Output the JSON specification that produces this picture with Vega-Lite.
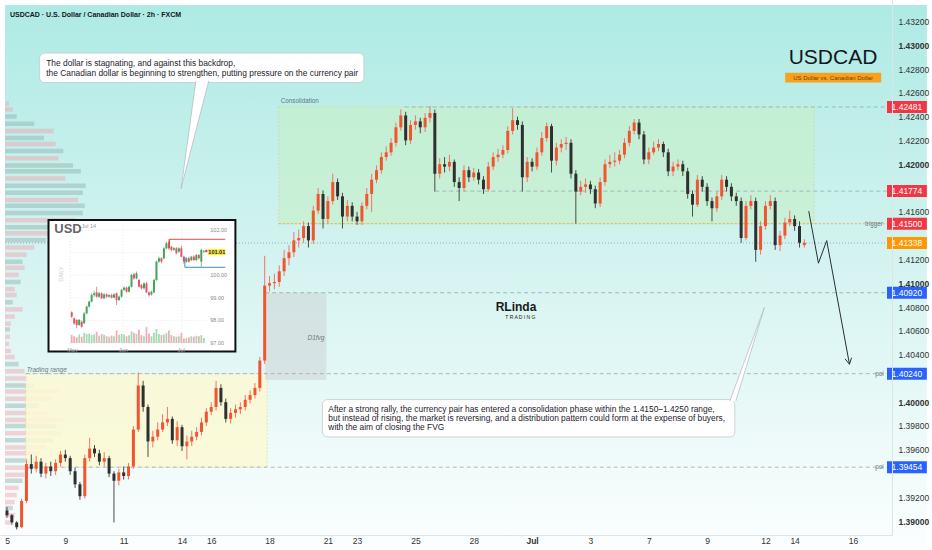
{
  "$schema": "https://vega.github.io/schema/vega-lite/v6.json",
  "width": 892,
  "height": 535,
  "autosize": "none",
  "padding": {"left": 0, "top": 0, "right": 40, "bottom": 15},
  "background": "#ffffff",
  "config": {"view": {"stroke": null}, "font": "Liberation Sans", "axis": {"labelOverlap": false, "labelBound": false, "labelSeparation": 0}},
  "datasets": {
    "candles": [
      {"i":0,"o":1.3909,"h":1.3912,"l":1.3903,"c":1.3905},{"i":1,"o":1.3905,"h":1.3906,"l":1.3897,"c":1.3899},{"i":2,"o":1.3899,"h":1.3900,"l":1.3893,"c":1.3895},{"i":3,"o":1.3895,"h":1.3919,"l":1.3894,"c":1.3917},{"i":4,"o":1.3917,"h":1.3952,"l":1.3915,"c":1.3948},
      {"i":5,"o":1.3948,"h":1.3956,"l":1.3940,"c":1.3944},{"i":6,"o":1.3944,"h":1.3955,"l":1.3941,"c":1.3950},{"i":7,"o":1.3950,"h":1.3953,"l":1.3937,"c":1.3940},{"i":8,"o":1.3940,"h":1.3949,"l":1.3936,"c":1.3946},{"i":9,"o":1.3946,"h":1.3950,"l":1.3938,"c":1.3942},
      {"i":10,"o":1.3942,"h":1.3952,"l":1.3939,"c":1.3949},{"i":11,"o":1.3949,"h":1.3959,"l":1.3946,"c":1.3956},{"i":12,"o":1.3956,"h":1.3960,"l":1.3950,"c":1.3953},{"i":13,"o":1.3953,"h":1.3955,"l":1.3939,"c":1.3942},{"i":14,"o":1.3942,"h":1.3945,"l":1.3928,"c":1.3931},
      {"i":15,"o":1.3931,"h":1.3933,"l":1.3918,"c":1.3921},{"i":16,"o":1.3921,"h":1.3956,"l":1.3919,"c":1.3953},{"i":17,"o":1.3953,"h":1.3970,"l":1.3950,"c":1.3961},{"i":18,"o":1.3961,"h":1.3964,"l":1.3954,"c":1.3957},{"i":19,"o":1.3957,"h":1.3960,"l":1.3947,"c":1.3950},
      {"i":20,"o":1.3950,"h":1.3958,"l":1.3946,"c":1.3953},{"i":21,"o":1.3953,"h":1.3955,"l":1.3937,"c":1.3940},{"i":22,"o":1.3940,"h":1.3942,"l":1.3899,"c":1.3934},{"i":23,"o":1.3934,"h":1.3944,"l":1.3930,"c":1.3941},{"i":24,"o":1.3941,"h":1.3946,"l":1.3935,"c":1.3938},
      {"i":25,"o":1.3938,"h":1.3949,"l":1.3935,"c":1.3946},{"i":26,"o":1.3946,"h":1.3980,"l":1.3944,"c":1.3977},{"i":27,"o":1.3977,"h":1.4025,"l":1.3975,"c":1.4014},{"i":28,"o":1.4014,"h":1.4018,"l":1.3992,"c":1.3996},{"i":29,"o":1.3996,"h":1.3998,"l":1.3954,"c":1.3967},
      {"i":30,"o":1.3967,"h":1.3976,"l":1.3962,"c":1.3971},{"i":31,"o":1.3971,"h":1.3983,"l":1.3968,"c":1.3977},{"i":32,"o":1.3977,"h":1.3990,"l":1.3975,"c":1.3983},{"i":33,"o":1.3983,"h":1.3996,"l":1.3980,"c":1.3986},{"i":34,"o":1.3986,"h":1.3988,"l":1.3965,"c":1.3968},
      {"i":35,"o":1.3968,"h":1.3984,"l":1.3963,"c":1.3979},{"i":36,"o":1.3979,"h":1.3981,"l":1.3959,"c":1.3963},{"i":37,"o":1.3963,"h":1.3972,"l":1.3952,"c":1.3967},{"i":38,"o":1.3967,"h":1.3976,"l":1.3963,"c":1.3971},{"i":39,"o":1.3971,"h":1.3979,"l":1.3968,"c":1.3975},
      {"i":40,"o":1.3975,"h":1.3987,"l":1.3972,"c":1.3983},{"i":41,"o":1.3983,"h":1.3995,"l":1.3980,"c":1.3992},{"i":42,"o":1.3992,"h":1.4000,"l":1.3989,"c":1.3996},{"i":43,"o":1.3996,"h":1.4018,"l":1.3993,"c":1.4012},{"i":44,"o":1.4012,"h":1.4015,"l":1.3997,"c":1.4000},
      {"i":45,"o":1.4000,"h":1.4003,"l":1.3983,"c":1.3986},{"i":46,"o":1.3986,"h":1.3995,"l":1.3982,"c":1.3991},{"i":47,"o":1.3991,"h":1.3998,"l":1.3987,"c":1.3994},{"i":48,"o":1.3994,"h":1.4000,"l":1.3990,"c":1.3996},{"i":49,"o":1.3996,"h":1.4006,"l":1.3993,"c":1.4002},
      {"i":50,"o":1.4002,"h":1.4010,"l":1.3999,"c":1.4006},{"i":51,"o":1.4006,"h":1.4016,"l":1.4003,"c":1.4012},{"i":52,"o":1.4012,"h":1.4038,"l":1.4009,"c":1.4035},{"i":53,"o":1.4035,"h":1.4123,"l":1.4032,"c":1.4098},{"i":54,"o":1.4098,"h":1.4106,"l":1.4093,"c":1.4100},
      {"i":55,"o":1.4100,"h":1.4108,"l":1.4095,"c":1.4101},{"i":56,"o":1.4101,"h":1.4115,"l":1.4097,"c":1.4110},{"i":57,"o":1.4110,"h":1.4128,"l":1.4106,"c":1.4121},{"i":58,"o":1.4121,"h":1.4132,"l":1.4115,"c":1.4126},{"i":59,"o":1.4126,"h":1.4143,"l":1.4122,"c":1.4136},
      {"i":60,"o":1.4136,"h":1.4145,"l":1.4130,"c":1.4138},{"i":61,"o":1.4138,"h":1.4152,"l":1.4134,"c":1.4148},{"i":62,"o":1.4148,"h":1.4151,"l":1.4130,"c":1.4136},{"i":63,"o":1.4136,"h":1.4165,"l":1.4133,"c":1.4161},{"i":64,"o":1.4161,"h":1.4180,"l":1.4158,"c":1.4175},
      {"i":65,"o":1.4175,"h":1.4178,"l":1.4146,"c":1.4154},{"i":66,"o":1.4154,"h":1.4173,"l":1.4150,"c":1.4169},{"i":67,"o":1.4169,"h":1.4192,"l":1.4166,"c":1.4185},{"i":68,"o":1.4185,"h":1.4188,"l":1.4170,"c":1.4173},{"i":69,"o":1.4173,"h":1.4176,"l":1.4146,"c":1.4156},
      {"i":70,"o":1.4156,"h":1.4170,"l":1.4152,"c":1.4165},{"i":71,"o":1.4165,"h":1.4168,"l":1.4152,"c":1.4156},{"i":72,"o":1.4156,"h":1.4160,"l":1.4149,"c":1.4152},{"i":73,"o":1.4152,"h":1.4168,"l":1.4149,"c":1.4165},{"i":74,"o":1.4165,"h":1.4180,"l":1.4162,"c":1.4175},
      {"i":75,"o":1.4175,"h":1.4192,"l":1.4160,"c":1.4187},{"i":76,"o":1.4187,"h":1.4199,"l":1.4184,"c":1.4195},{"i":77,"o":1.4195,"h":1.4210,"l":1.4192,"c":1.4206},{"i":78,"o":1.4206,"h":1.4215,"l":1.4203,"c":1.4210},{"i":79,"o":1.4210,"h":1.4222,"l":1.4207,"c":1.4218},
      {"i":80,"o":1.4218,"h":1.4235,"l":1.4215,"c":1.4231},{"i":81,"o":1.4231,"h":1.4246,"l":1.4228,"c":1.4241},{"i":82,"o":1.4241,"h":1.4244,"l":1.4216,"c":1.4220},{"i":83,"o":1.4220,"h":1.4237,"l":1.4217,"c":1.4233},{"i":84,"o":1.4233,"h":1.4241,"l":1.4229,"c":1.4236},
      {"i":85,"o":1.4236,"h":1.4239,"l":1.4226,"c":1.4231},{"i":86,"o":1.4231,"h":1.4243,"l":1.4227,"c":1.4239},{"i":87,"o":1.4239,"h":1.4249,"l":1.4235,"c":1.4243},{"i":88,"o":1.4243,"h":1.4246,"l":1.4177,"c":1.4192},{"i":89,"o":1.4192,"h":1.4205,"l":1.4188,"c":1.4200},
      {"i":90,"o":1.4200,"h":1.4206,"l":1.4193,"c":1.4198},{"i":91,"o":1.4198,"h":1.4208,"l":1.4194,"c":1.4202},{"i":92,"o":1.4202,"h":1.4204,"l":1.4181,"c":1.4185},{"i":93,"o":1.4185,"h":1.4189,"l":1.4169,"c":1.4180},{"i":94,"o":1.4180,"h":1.4199,"l":1.4177,"c":1.4195},
      {"i":95,"o":1.4195,"h":1.4198,"l":1.4185,"c":1.4189},{"i":96,"o":1.4189,"h":1.4197,"l":1.4186,"c":1.4193},{"i":97,"o":1.4193,"h":1.4196,"l":1.4183,"c":1.4187},{"i":98,"o":1.4187,"h":1.4190,"l":1.4175,"c":1.4179},{"i":99,"o":1.4179,"h":1.4202,"l":1.4177,"c":1.4198},
      {"i":100,"o":1.4198,"h":1.4210,"l":1.4195,"c":1.4206},{"i":101,"o":1.4206,"h":1.4213,"l":1.4202,"c":1.4208},{"i":102,"o":1.4208,"h":1.4216,"l":1.4205,"c":1.4212},{"i":103,"o":1.4212,"h":1.4232,"l":1.4209,"c":1.4228},{"i":104,"o":1.4228,"h":1.4247,"l":1.4225,"c":1.4237},
      {"i":105,"o":1.4237,"h":1.4240,"l":1.4229,"c":1.4233},{"i":106,"o":1.4233,"h":1.4236,"l":1.4177,"c":1.4189},{"i":107,"o":1.4189,"h":1.4206,"l":1.4185,"c":1.4202},{"i":108,"o":1.4202,"h":1.4205,"l":1.4194,"c":1.4198},{"i":109,"o":1.4198,"h":1.4214,"l":1.4195,"c":1.4210},
      {"i":110,"o":1.4210,"h":1.4227,"l":1.4207,"c":1.4222},{"i":111,"o":1.4222,"h":1.4235,"l":1.4219,"c":1.4232},{"i":112,"o":1.4232,"h":1.4234,"l":1.4193,"c":1.4203},{"i":113,"o":1.4203,"h":1.4218,"l":1.4199,"c":1.4214},{"i":114,"o":1.4214,"h":1.4221,"l":1.4210,"c":1.4217},
      {"i":115,"o":1.4217,"h":1.4223,"l":1.4212,"c":1.4218},{"i":116,"o":1.4218,"h":1.4221,"l":1.4188,"c":1.4192},{"i":117,"o":1.4192,"h":1.4195,"l":1.4150,"c":1.4177},{"i":118,"o":1.4177,"h":1.4186,"l":1.4174,"c":1.4181},{"i":119,"o":1.4181,"h":1.4188,"l":1.4176,"c":1.4183},
      {"i":120,"o":1.4183,"h":1.4186,"l":1.4175,"c":1.4179},{"i":121,"o":1.4179,"h":1.4182,"l":1.4163,"c":1.4167},{"i":122,"o":1.4167,"h":1.4189,"l":1.4164,"c":1.4185},{"i":123,"o":1.4185,"h":1.4204,"l":1.4182,"c":1.4200},{"i":124,"o":1.4200,"h":1.4208,"l":1.4197,"c":1.4202},
      {"i":125,"o":1.4202,"h":1.4210,"l":1.4198,"c":1.4203},{"i":126,"o":1.4203,"h":1.4212,"l":1.4200,"c":1.4208},{"i":127,"o":1.4208,"h":1.4222,"l":1.4205,"c":1.4218},{"i":128,"o":1.4218,"h":1.4232,"l":1.4215,"c":1.4228},{"i":129,"o":1.4228,"h":1.4238,"l":1.4225,"c":1.4235},
      {"i":130,"o":1.4235,"h":1.4238,"l":1.4221,"c":1.4225},{"i":131,"o":1.4225,"h":1.4228,"l":1.4200,"c":1.4204},{"i":132,"o":1.4204,"h":1.4214,"l":1.4200,"c":1.4210},{"i":133,"o":1.4210,"h":1.4219,"l":1.4208,"c":1.4214},{"i":134,"o":1.4214,"h":1.4221,"l":1.4211,"c":1.4217},
      {"i":135,"o":1.4217,"h":1.4219,"l":1.4206,"c":1.4210},{"i":136,"o":1.4210,"h":1.4213,"l":1.4190,"c":1.4194},{"i":137,"o":1.4194,"h":1.4202,"l":1.4190,"c":1.4198},{"i":138,"o":1.4198,"h":1.4204,"l":1.4195,"c":1.4200},{"i":139,"o":1.4200,"h":1.4203,"l":1.4190,"c":1.4194},
      {"i":140,"o":1.4194,"h":1.4197,"l":1.4171,"c":1.4175},{"i":141,"o":1.4175,"h":1.4178,"l":1.4156,"c":1.4166},{"i":142,"o":1.4166,"h":1.4191,"l":1.4164,"c":1.4187},{"i":143,"o":1.4187,"h":1.4190,"l":1.4177,"c":1.4181},{"i":144,"o":1.4181,"h":1.4184,"l":1.4165,"c":1.4169},
      {"i":145,"o":1.4169,"h":1.4172,"l":1.4152,"c":1.4163},{"i":146,"o":1.4163,"h":1.4177,"l":1.4160,"c":1.4173},{"i":147,"o":1.4173,"h":1.4191,"l":1.4170,"c":1.4187},{"i":148,"o":1.4187,"h":1.4190,"l":1.4177,"c":1.4181},{"i":149,"o":1.4181,"h":1.4184,"l":1.4169,"c":1.4173},
      {"i":150,"o":1.4173,"h":1.4176,"l":1.4165,"c":1.4169},{"i":151,"o":1.4169,"h":1.4172,"l":1.4134,"c":1.4138},{"i":152,"o":1.4138,"h":1.4169,"l":1.4136,"c":1.4165},{"i":153,"o":1.4165,"h":1.4174,"l":1.4162,"c":1.4169},{"i":154,"o":1.4169,"h":1.4172,"l":1.4118,"c":1.4128},
      {"i":155,"o":1.4128,"h":1.4152,"l":1.4124,"c":1.4148},{"i":156,"o":1.4148,"h":1.4169,"l":1.4145,"c":1.4165},{"i":157,"o":1.4165,"h":1.4174,"l":1.4162,"c":1.4169},{"i":158,"o":1.4169,"h":1.4172,"l":1.4128,"c":1.4132},{"i":159,"o":1.4132,"h":1.4144,"l":1.4127,"c":1.4140},
      {"i":160,"o":1.4140,"h":1.4155,"l":1.4137,"c":1.4151},{"i":161,"o":1.4151,"h":1.4161,"l":1.4148,"c":1.4154},{"i":162,"o":1.4154,"h":1.4157,"l":1.4144,"c":1.4148},{"i":163,"o":1.4148,"h":1.4152,"l":1.4130,"c":1.4134},{"i":164,"o":1.4132,"h":1.4137,"l":1.4130,"c":1.4134}
    ],
    "vp": [
      {"p":1.4251,"e":0.4,"k":"p"},{"p":1.4246,"e":1.2,"k":"p"},{"p":1.4240,"e":2.0,"k":"a"},{"p":1.4234,"e":5.6,"k":"a"},{"p":1.4228,"e":9.6,"k":"p"},
      {"p":1.4222,"e":7.6,"k":"a"},{"p":1.4217,"e":10.0,"k":"p"},{"p":1.4211,"e":11.6,"k":"a"},{"p":1.4205,"e":10.6,"k":"p"},{"p":1.4199,"e":13.6,"k":"a"},
      {"p":1.4194,"e":15.2,"k":"a"},{"p":1.4188,"e":12.0,"k":"p"},{"p":1.4182,"e":16.2,"k":"a"},{"p":1.4176,"e":15.6,"k":"a"},{"p":1.4170,"e":14.6,"k":"p"},
      {"p":1.4165,"e":16.0,"k":"a"},{"p":1.4159,"e":15.6,"k":"a"},{"p":1.4153,"e":14.0,"k":"p"},{"p":1.4147,"e":12.6,"k":"a"},{"p":1.4142,"e":9.6,"k":"p"},
      {"p":1.4136,"e":8.0,"k":"a"},{"p":1.4130,"e":5.6,"k":"p"},{"p":1.4124,"e":4.0,"k":"p"},{"p":1.4118,"e":3.2,"k":"a"},{"p":1.4113,"e":3.6,"k":"p"},
      {"p":1.4107,"e":2.4,"k":"p"},{"p":1.4101,"e":2.8,"k":"a"},{"p":1.4095,"e":1.6,"k":"p"},{"p":1.4090,"e":2.0,"k":"p"},{"p":1.4084,"e":1.2,"k":"a"},
      {"p":1.4078,"e":3.2,"k":"p"},{"p":1.4072,"e":1.6,"k":"p"},{"p":1.4066,"e":0.8,"k":"p"},{"p":1.4061,"e":0.6,"k":"a"},{"p":1.4055,"e":0.6,"k":"p"},
      {"p":1.4049,"e":0.4,"k":"p"},{"p":1.4043,"e":0.8,"k":"p"},{"p":1.4038,"e":1.6,"k":"p"},{"p":1.4032,"e":2.4,"k":"a"},{"p":1.4026,"e":3.6,"k":"p"},
      {"p":1.4020,"e":4.4,"k":"p"},{"p":1.4014,"e":5.6,"k":"a"},{"p":1.4009,"e":10.6,"k":"p"},{"p":1.4003,"e":9.2,"k":"p"},{"p":1.3997,"e":6.6,"k":"a"},
      {"p":1.3991,"e":8.6,"k":"p"},{"p":1.3985,"e":11.6,"k":"p"},{"p":1.3980,"e":10.0,"k":"a"},{"p":1.3974,"e":11.2,"k":"p"},{"p":1.3968,"e":9.6,"k":"a"},
      {"p":1.3962,"e":8.0,"k":"p"},{"p":1.3957,"e":6.8,"k":"p"},{"p":1.3951,"e":5.6,"k":"a"},{"p":1.3945,"e":4.6,"k":"p"},{"p":1.3939,"e":3.6,"k":"p"},
      {"p":1.3934,"e":3.2,"k":"a"},{"p":1.3928,"e":2.4,"k":"p"},{"p":1.3922,"e":2.0,"k":"p"},{"p":1.3916,"e":1.6,"k":"p"},{"p":1.3911,"e":1.2,"k":"a"},
      {"p":1.3905,"e":1.6,"k":"p"},{"p":1.3899,"e":0.8,"k":"p"}
    ],
    "mini": [
      {"k":0,"o":98.36,"h":98.40,"l":98.10,"c":98.17,"vt":97.35},{"k":1,"o":98.09,"h":98.14,"l":97.80,"c":97.87,"vt":97.30},{"k":2,"o":98.02,"h":98.06,"l":97.65,"c":97.80,"vt":97.25},
      {"k":3,"o":97.80,"h":98.06,"l":97.75,"c":98.02,"vt":97.38},{"k":4,"o":97.94,"h":98.00,"l":97.68,"c":97.72,"vt":97.28},{"k":5,"o":97.87,"h":98.36,"l":97.84,"c":98.31,"vt":97.45},
      {"k":6,"o":98.31,"h":98.66,"l":98.28,"c":98.61,"vt":97.40},{"k":7,"o":98.61,"h":98.88,"l":98.57,"c":98.83,"vt":97.42},{"k":8,"o":98.83,"h":99.20,"l":98.80,"c":99.12,"vt":97.35},
      {"k":9,"o":99.12,"h":99.30,"l":99.05,"c":99.20,"vt":97.38},{"k":10,"o":99.24,"h":99.49,"l":99.00,"c":99.05,"vt":97.50},{"k":11,"o":99.05,"h":99.26,"l":99.00,"c":99.20,"vt":97.32},
      {"k":12,"o":99.20,"h":99.24,"l":98.95,"c":98.98,"vt":97.40},{"k":13,"o":98.98,"h":99.20,"l":98.94,"c":99.15,"vt":97.36},{"k":14,"o":99.15,"h":99.19,"l":99.00,"c":99.05,"vt":97.30},
      {"k":15,"o":99.05,"h":99.16,"l":99.01,"c":99.12,"vt":97.28},{"k":16,"o":99.12,"h":99.18,"l":98.97,"c":99.01,"vt":97.33},{"k":17,"o":99.01,"h":99.20,"l":98.98,"c":99.15,"vt":97.30},
      {"k":18,"o":99.20,"h":99.24,"l":98.68,"c":98.90,"vt":97.55},{"k":19,"o":98.90,"h":99.10,"l":98.86,"c":99.05,"vt":97.36},{"k":20,"o":99.05,"h":99.40,"l":99.00,"c":99.35,"vt":97.40},
      {"k":21,"o":99.35,"h":99.50,"l":99.30,"c":99.45,"vt":97.38},{"k":22,"o":99.45,"h":99.50,"l":99.22,"c":99.27,"vt":97.30},{"k":23,"o":99.27,"h":99.55,"l":99.24,"c":99.49,"vt":97.34},
      {"k":24,"o":99.49,"h":100.06,"l":99.45,"c":100.01,"vt":97.52},{"k":25,"o":100.04,"h":100.10,"l":99.80,"c":99.86,"vt":97.45},{"k":26,"o":99.86,"h":100.16,"l":99.82,"c":100.08,"vt":97.40},
      {"k":27,"o":99.79,"h":99.84,"l":99.45,"c":99.49,"vt":97.60},{"k":28,"o":99.57,"h":99.62,"l":99.37,"c":99.42,"vt":97.35},{"k":29,"o":99.42,"h":99.68,"l":99.38,"c":99.64,"vt":97.30},
      {"k":30,"o":99.64,"h":99.70,"l":99.20,"c":99.24,"vt":97.70},{"k":31,"o":99.24,"h":99.28,"l":99.05,"c":99.12,"vt":97.42},{"k":32,"o":99.15,"h":99.32,"l":99.10,"c":99.27,"vt":97.30},
      {"k":33,"o":99.24,"h":99.84,"l":99.20,"c":99.79,"vt":97.45},{"k":34,"o":99.79,"h":100.65,"l":99.75,"c":100.60,"vt":97.62},{"k":35,"o":100.60,"h":100.82,"l":100.55,"c":100.75,"vt":97.40},
      {"k":36,"o":100.75,"h":100.80,"l":100.52,"c":100.60,"vt":97.35},{"k":37,"o":100.75,"h":101.24,"l":100.70,"c":101.19,"vt":97.38},{"k":38,"o":101.19,"h":101.48,"l":101.15,"c":101.41,"vt":97.45},
      {"k":39,"o":101.48,"h":101.60,"l":101.12,"c":101.19,"vt":97.55},{"k":40,"o":101.26,"h":101.30,"l":101.05,"c":101.12,"vt":97.35},{"k":41,"o":101.12,"h":101.24,"l":101.08,"c":101.19,"vt":97.30},
      {"k":42,"o":101.19,"h":101.24,"l":100.92,"c":100.97,"vt":97.28},{"k":43,"o":101.04,"h":101.24,"l":101.00,"c":101.19,"vt":97.30},{"k":44,"o":101.19,"h":101.30,"l":100.78,"c":100.82,"vt":97.45},
      {"k":45,"o":100.82,"h":100.86,"l":100.50,"c":100.60,"vt":97.20},{"k":46,"o":100.60,"h":100.80,"l":100.55,"c":100.75,"vt":97.22},{"k":47,"o":100.75,"h":100.82,"l":100.56,"c":100.60,"vt":97.25},
      {"k":48,"o":100.67,"h":100.86,"l":100.62,"c":100.82,"vt":97.30},{"k":49,"o":100.82,"h":100.88,"l":100.62,"c":100.67,"vt":97.28},{"k":50,"o":100.67,"h":100.94,"l":100.62,"c":100.89,"vt":97.32},
      {"k":51,"o":100.89,"h":100.94,"l":100.70,"c":100.75,"vt":97.30},{"k":52,"o":100.60,"h":101.18,"l":100.38,"c":101.12,"vt":97.35},{"k":53,"o":101.04,"h":101.12,"l":100.98,"c":101.07,"vt":97.22}
    ]
  },
  "layer": [
    {
      "resolve": {"scale": {"color": "independent"}},
      "layer": [
        {
          "data": {"values": [{"x1": -0.41, "x2": 189.2, "y1": 1.43338, "y2": 1.38802}]},
          "mark": {"type": "rect", "fill": {"gradient": "linear", "x1": 0, "y1": 0, "x2": 0, "y2": 1, "stops": [{"offset": 0, "color": "#aeeae4"}, {"offset": 0.5, "color": "#d6f4f1"}, {"offset": 1, "color": "#fbfefe"}]}},
          "encoding": {
            "x": {
              "field": "x1", "type": "quantitative",
              "scale": {"domain": [-0.41, 181], "nice": false, "zero": false},
              "axis": {
                "title": null, "grid": false, "ticks": false, "domain": true, "domainColor": "#dfe3e6",
                "values": [0, 12, 24, 36, 42, 54, 66, 72, 84, 96, 108, 120, 132, 144, 156, 162, 174],
                "tickCount": 40,
                "labelExpr": "['5','9','11','14','16','18','21','23','25','28','Jul','3','7','9','12','14','16'][indexof([0,12,24,36,42,54,66,72,84,96,108,120,132,144,156,162,174], datum.value)]",
                "labelFontSize": 8.5, "labelColor": "#333333", "labelPadding": 1, "labelFlush": false, "labelOverlap": false,
                "labelFontWeight": {"condition": {"test": "datum.value == 108", "value": "bold"}, "value": "normal"},
                "zindex": 1
              }
            },
            "x2": {"field": "x2"},
            "y": {
              "field": "y1", "type": "quantitative",
              "scale": {"domain": [1.38926, 1.43338], "nice": false, "zero": false},
              "axis": {
                "title": null, "orient": "right", "grid": false, "ticks": false, "domain": true, "domainColor": "#dfe3e6",
                "values": [1.39, 1.392, 1.394, 1.396, 1.398, 1.4, 1.402, 1.404, 1.406, 1.408, 1.41, 1.412, 1.414, 1.416, 1.418, 1.42, 1.422, 1.424, 1.426, 1.428, 1.43, 1.432],
                "tickCount": 40,
                "format": ".5f",
                "labelExpr": "indexof([1.394, 1.402, 1.414, 1.418], datum.value) >= 0 ? '' : datum.label",
                "labelFontSize": 8.5, "labelColor": "#333333", "labelPadding": 6, "labelOverlap": false, "labelBound": false, "labelSeparation": 0,
                "labelFontWeight": {"condition": {"test": "indexof([1.39, 1.4, 1.41, 1.42, 1.43], datum.value) >= 0", "value": "bold"}, "value": "normal"},
                "zindex": 1
              }
            },
            "y2": {"field": "y2"}
          }
        },
        {
          "data": {"name": "vp"},
          "mark": {"type": "bar", "orient": "horizontal", "size": 4.5, "opacity": 0.45},
          "encoding": {
            "y": {"field": "p", "type": "quantitative"},
            "x": {"field": "e", "type": "quantitative"},
            "x2": {"datum": -0.41},
            "color": {"field": "k", "type": "nominal", "scale": {"domain": ["a", "p"], "range": ["#8fb0ad", "#f5a0ab"]}, "legend": null}
          }
        },
        {
          "data": {"values": [{"a": 55.9, "b": 166, "lo": 1.415, "hi": 1.42481}]},
          "mark": {"type": "rect", "fill": "#c6efc9", "fillOpacity": 0.65, "stroke": "#d2d68a", "strokeWidth": 0.8, "strokeDash": [1.5, 2]},
          "encoding": {"x": {"field": "a", "type": "quantitative"}, "x2": {"field": "b"}, "y": {"field": "lo", "type": "quantitative"}, "y2": {"field": "hi"}}
        },
        {
          "data": {"values": [{"a": 3.86, "b": 53.5, "lo": 1.39454, "hi": 1.4024}]},
          "mark": {"type": "rect", "fill": "#fbf9d4", "fillOpacity": 0.85, "stroke": "#d9d9a0", "strokeWidth": 0.8, "strokeDash": [1.5, 2]},
          "encoding": {"x": {"field": "a", "type": "quantitative"}, "x2": {"field": "b"}, "y": {"field": "lo", "type": "quantitative"}, "y2": {"field": "hi"}}
        },
        {
          "data": {"values": [{"a": 53.1, "b": 65.7, "lo": 1.40186, "hi": 1.4092}]},
          "mark": {"type": "rect", "fill": "#cdd3d6", "fillOpacity": 0.55},
          "encoding": {"x": {"field": "a", "type": "quantitative"}, "x2": {"field": "b"}, "y": {"field": "lo", "type": "quantitative"}, "y2": {"field": "hi"}}
        },
        {
          "data": {"values": [{"p": 1.42481, "a": 81.8, "b": 181}, {"p": 1.41774, "a": 88.1, "b": 181}, {"p": 1.4092, "a": 53.1, "b": 181}, {"p": 1.4024, "a": 3.86, "b": 181}, {"p": 1.39454, "a": 3.86, "b": 181}]},
          "mark": {"type": "rule", "color": "#98a8b4", "strokeWidth": 0.8, "strokeDash": [4, 3]},
          "encoding": {"y": {"field": "p", "type": "quantitative"}, "x": {"field": "a", "type": "quantitative"}, "x2": {"field": "b"}}
        },
        {
          "data": {"values": [{"p": 1.415, "a": 55.9, "b": 181}]},
          "mark": {"type": "rule", "color": "#eba83a", "strokeWidth": 0.9, "strokeDash": [2, 2]},
          "encoding": {"y": {"field": "p", "type": "quantitative"}, "x": {"field": "a", "type": "quantitative"}, "x2": {"field": "b"}}
        },
        {
          "data": {"values": [{"p": 1.41338, "a": -0.41, "b": 181}]},
          "mark": {"type": "rule", "color": "#8c9aa0", "strokeWidth": 0.8, "strokeDash": [1, 2]},
          "encoding": {"y": {"field": "p", "type": "quantitative"}, "x": {"field": "a", "type": "quantitative"}, "x2": {"field": "b"}}
        },
        {
          "data": {"values": [{"i": 56.3, "p": 1.4253, "t": "Consolidation"}, {"i": 176.5, "p": 1.415, "t": "trigger"}, {"i": 178.6, "p": 1.4024, "t": "poi"}, {"i": 178.6, "p": 1.39454, "t": "poi"}]},
          "mark": {"type": "text", "align": "left", "baseline": "middle", "fontSize": 6.3, "color": "#66777e"},
          "encoding": {"x": {"field": "i", "type": "quantitative"}, "y": {"field": "p", "type": "quantitative"}, "text": {"field": "t", "type": "nominal"}}
        },
        {
          "data": {"values": [{"i": 4.07, "p": 1.4027, "t": "Trading range"}, {"i": 61.8, "p": 1.40541, "t": "D1fvg"}]},
          "mark": {"type": "text", "align": "left", "baseline": "middle", "fontSize": 6.5, "fontStyle": "italic", "color": "#6f7a80"},
          "encoding": {"x": {"field": "i", "type": "quantitative"}, "y": {"field": "p", "type": "quantitative"}, "text": {"field": "t", "type": "nominal"}}
        },
        {
          "data": {"values": [{"a": 6.71, "b": 73.42, "lo": 1.42686, "hi": 1.42934}, {"a": 64.88, "b": 149.7, "lo": 1.39708, "hi": 1.40022}]},
          "mark": {"type": "rect", "fill": "#ffffff", "stroke": "#c3c8cc", "strokeWidth": 0.8, "cornerRadius": 5},
          "encoding": {"x": {"field": "a", "type": "quantitative"}, "x2": {"field": "b"}, "y": {"field": "lo", "type": "quantitative"}, "y2": {"field": "hi"}}
        },
        {
          "data": {"values": [
            {"g": "p1", "o": 0, "i": 38.85, "p": 1.427}, {"g": "p1", "o": 1, "i": 35.8, "p": 1.41795}, {"g": "p1", "o": 2, "i": 41.49, "p": 1.427},
            {"g": "p2", "o": 0, "i": 148.67, "p": 1.4001}, {"g": "p2", "o": 1, "i": 155.8, "p": 1.40798}, {"g": "p2", "o": 2, "i": 149.9, "p": 1.4001}
          ]},
          "mark": {"type": "line", "fill": "#ffffff", "stroke": "#b8bec4", "strokeWidth": 0.8},
          "encoding": {"x": {"field": "i", "type": "quantitative"}, "y": {"field": "p", "type": "quantitative"}, "detail": {"field": "g", "type": "nominal"}, "order": {"field": "o", "type": "quantitative"}}
        },
        {
          "data": {"values": [
            {"i": 8.07, "p": 1.42847, "t": "The dollar is stagnating, and against this backdrop,"},
            {"i": 8.07, "p": 1.42769, "t": "the Canadian dollar is beginning to strengthen, putting pressure on the currency pair"}
          ]},
          "mark": {"type": "text", "align": "left", "baseline": "middle", "fontSize": 8.4, "color": "#1e222d"},
          "encoding": {"x": {"field": "i", "type": "quantitative"}, "y": {"field": "p", "type": "quantitative"}, "text": {"field": "t", "type": "nominal"}}
        },
        {
          "data": {"values": [
            {"i": 66.1, "p": 1.39944, "t": "After a strong rally, the currency pair has entered a consolidation phase within the 1.4150–1.4250 range,"},
            {"i": 66.1, "p": 1.39869, "t": "but instead of rising, the market is reversing, and a distribution pattern could form at the expense of buyers,"},
            {"i": 66.1, "p": 1.39795, "t": "with the aim of closing the FVG"}
          ]},
          "mark": {"type": "text", "align": "left", "baseline": "middle", "fontSize": 8.4, "color": "#1e222d"},
          "encoding": {"x": {"field": "i", "type": "quantitative"}, "y": {"field": "p", "type": "quantitative"}, "text": {"field": "t", "type": "nominal"}}
        },
        {
          "data": {"values": [{"a": 8.54, "b": 46.98, "lo": 1.40426, "hi": 1.41531}]},
          "mark": {"type": "rect", "fill": "#ffffff", "stroke": "#111111", "strokeWidth": 2},
          "encoding": {"x": {"field": "a", "type": "quantitative"}, "x2": {"field": "b"}, "y": {"field": "lo", "type": "quantitative"}, "y2": {"field": "hi"}}
        },
        {
          "data": {"name": "candles"},
          "mark": {"type": "rule", "strokeWidth": 1},
          "encoding": {
            "x": {"field": "i", "type": "quantitative"},
            "y": {"field": "l", "type": "quantitative"},
            "y2": {"field": "h"},
            "color": {"condition": {"test": "datum.c >= datum.o", "value": "#f0766a"}, "value": "#4a4a4a"}
          }
        },
        {
          "data": {"name": "candles"},
          "mark": {"type": "bar", "size": 3},
          "encoding": {
            "x": {"field": "i", "type": "quantitative"},
            "y": {"field": "o", "type": "quantitative"},
            "y2": {"field": "c"},
            "color": {"condition": {"test": "datum.c >= datum.o", "value": "#f2542d"}, "value": "#2f2f2f"}
          }
        },
        {
          "data": {"values": [
            {"g": "a", "o": 0, "i": 164.9, "p": 1.41606}, {"g": "a", "o": 1, "i": 166.9, "p": 1.41168}, {"g": "a", "o": 2, "i": 168.6, "p": 1.41358}, {"g": "a", "o": 3, "i": 173.28, "p": 1.40319},
            {"g": "h", "o": 0, "i": 173.71, "p": 1.40374}, {"g": "h", "o": 1, "i": 173.28, "p": 1.40319}, {"g": "h", "o": 2, "i": 172.38, "p": 1.40364}
          ]},
          "mark": {"type": "line", "color": "#2a2e39", "strokeWidth": 1},
          "encoding": {"x": {"field": "i", "type": "quantitative"}, "y": {"field": "p", "type": "quantitative"}, "detail": {"field": "g", "type": "nominal"}, "order": {"field": "o", "type": "quantitative"}}
        },
        {
          "data": {"values": [{"i": 169.9, "p": 1.42843, "t": "USDCAD"}]},
          "mark": {"type": "text", "align": "center", "baseline": "alphabetic", "fontSize": 21, "color": "#131722"},
          "encoding": {"x": {"field": "i", "type": "quantitative"}, "y": {"field": "p", "type": "quantitative"}, "text": {"field": "t", "type": "nominal"}}
        },
        {
          "data": {"values": [{"a": 160.06, "b": 179.8, "lo": 1.42686, "hi": 1.42769}]},
          "mark": {"type": "rect", "fill": "#f8a11c"},
          "encoding": {"x": {"field": "a", "type": "quantitative"}, "x2": {"field": "b"}, "y": {"field": "lo", "type": "quantitative"}, "y2": {"field": "hi"}}
        },
        {
          "data": {"values": [{"i": 169.9, "p": 1.42728, "t": "US Dollar vs. Canadian Dollar"}]},
          "mark": {"type": "text", "align": "center", "baseline": "middle", "fontSize": 6, "color": "#7a3e00"},
          "encoding": {"x": {"field": "i", "type": "quantitative"}, "y": {"field": "p", "type": "quantitative"}, "text": {"field": "t", "type": "nominal"}}
        },
        {
          "data": {"values": [
            {"p": 1.42481, "t": "1.42481", "k": "r", "a": 181, "b": 189.2, "m": 185.1},
            {"p": 1.41774, "t": "1.41774", "k": "r", "a": 181, "b": 189.2, "m": 185.1},
            {"p": 1.415, "t": "1.41500", "k": "r", "a": 181, "b": 189.2, "m": 185.1},
            {"p": 1.41338, "t": "1.41338", "k": "o", "a": 181, "b": 189.2, "m": 185.1},
            {"p": 1.4092, "t": "1.40920", "k": "b", "a": 181, "b": 189.2, "m": 185.1},
            {"p": 1.4024, "t": "1.40240", "k": "b", "a": 181, "b": 189.2, "m": 185.1},
            {"p": 1.39454, "t": "1.39454", "k": "b", "a": 181, "b": 189.2, "m": 185.1}
          ]},
          "layer": [
            {
              "mark": {"type": "bar", "orient": "horizontal", "size": 12, "opacity": 1, "fillOpacity": 1},
              "encoding": {
                "y": {"field": "p", "type": "quantitative"},
                "x": {"field": "a", "type": "quantitative"},
                "x2": {"field": "b"},
                "color": {"field": "k", "type": "nominal", "scale": {"domain": ["r", "o", "b"], "range": ["#f23645", "#ff9800", "#2962ff"]}, "legend": null}
              }
            },
            {
              "mark": {"type": "text", "align": "center", "baseline": "middle", "fontSize": 8.5, "color": "#ffffff"},
              "encoding": {"y": {"field": "p", "type": "quantitative"}, "x": {"field": "m", "type": "quantitative"}, "text": {"field": "t", "type": "nominal"}}
            }
          ]
        },
        {
          "data": {"values": [{"i": 104.7, "p": 1.40798, "t": "RLinda"}]},
          "mark": {"type": "text", "align": "center", "baseline": "middle", "fontSize": 12, "fontWeight": "bold", "color": "#1a1a1a"},
          "encoding": {"x": {"field": "i", "type": "quantitative"}, "y": {"field": "p", "type": "quantitative"}, "text": {"field": "t", "type": "nominal"}}
        },
        {
          "data": {"values": [{"i": 105.6, "p": 1.40712, "t": "T R A D I N G"}]},
          "mark": {"type": "text", "align": "center", "baseline": "middle", "fontSize": 5, "color": "#1a1a1a"},
          "encoding": {"x": {"field": "i", "type": "quantitative"}, "y": {"field": "p", "type": "quantitative"}, "text": {"field": "t", "type": "nominal"}}
        },
        {
          "data": {"values": [{"i": 0.61, "p": 1.43251, "t": "USDCAD · U.S. Dollar / Canadian Dollar · 2h · FXCM"}]},
          "mark": {"type": "text", "align": "left", "baseline": "middle", "fontSize": 7, "fontWeight": "bold", "color": "#131722"},
          "encoding": {"x": {"field": "i", "type": "quantitative"}, "y": {"field": "p", "type": "quantitative"}, "text": {"field": "t", "type": "nominal"}}
        }
      ]
    },
    {
      "resolve": {"scale": {"color": "independent"}},
      "layer": [
        {
          "data": {"values": [{"v": 102, "a": -0.6, "b": 54.8}, {"v": 101, "a": -0.6, "b": 54.8}, {"v": 100, "a": -0.6, "b": 54.8}, {"v": 99, "a": -0.6, "b": 54.8}, {"v": 98, "a": -0.6, "b": 54.8}, {"v": 97, "a": -0.6, "b": 54.8}]},
          "mark": {"type": "rule", "color": "#d8d8d8", "strokeWidth": 0.6, "strokeDash": [1, 2]},
          "encoding": {
            "y": {"field": "v", "type": "quantitative", "scale": {"domain": [97, 102], "range": [343, 230], "nice": false, "zero": false}, "axis": null},
            "x": {"field": "a", "type": "quantitative", "scale": {"domain": [0, 54], "range": [66.7, 211.3], "nice": false, "zero": false}, "axis": null},
            "x2": {"field": "b"}
          }
        },
        {
          "data": {"values": [{"v": -0.6, "lo": 96.95, "hi": 102.25}, {"v": 20.5, "lo": 96.95, "hi": 102.25}, {"v": 44.2, "lo": 96.95, "hi": 102.25}]},
          "mark": {"type": "rule", "color": "#d8d8d8", "strokeWidth": 0.6, "strokeDash": [1, 2]},
          "encoding": {
            "x": {"field": "v", "type": "quantitative", "axis": null},
            "y": {"field": "lo", "type": "quantitative", "axis": null},
            "y2": {"field": "hi"}
          }
        },
        {
          "data": {"name": "mini"},
          "mark": {"type": "bar", "size": 1.8},
          "encoding": {
            "x": {"field": "k", "type": "quantitative", "axis": null},
            "y": {"field": "vt", "type": "quantitative", "axis": null},
            "y2": {"datum": 97},
            "color": {"condition": {"test": "datum.c >= datum.o", "value": "#a9d9b2"}, "value": "#f3aab7"}
          }
        },
        {
          "data": {"name": "mini"},
          "mark": {"type": "rule", "strokeWidth": 0.7},
          "encoding": {
            "x": {"field": "k", "type": "quantitative", "axis": null},
            "y": {"field": "l", "type": "quantitative", "axis": null},
            "y2": {"field": "h"},
            "color": {"condition": {"test": "datum.c >= datum.o", "value": "#43a55a"}, "value": "#e0566b"}
          }
        },
        {
          "data": {"name": "mini"},
          "mark": {"type": "bar", "size": 2},
          "encoding": {
            "x": {"field": "k", "type": "quantitative", "axis": null},
            "y": {"field": "o", "type": "quantitative", "axis": null},
            "y2": {"field": "c"},
            "color": {"condition": {"test": "datum.c >= datum.o", "value": "#43a55a"}, "value": "#e0566b"}
          }
        },
        {
          "data": {"values": [
            {"g": "r", "o": 0, "k": 39.2, "v": 101.19}, {"g": "r", "o": 1, "k": 39.2, "v": 101.59}, {"g": "r", "o": 2, "k": 61.6, "v": 101.59},
            {"g": "b", "o": 0, "k": 45.4, "v": 100.78}, {"g": "b", "o": 1, "k": 45.4, "v": 100.35}, {"g": "b", "o": 2, "k": 61.6, "v": 100.35}
          ]},
          "mark": {"type": "line", "strokeWidth": 1},
          "encoding": {
            "x": {"field": "k", "type": "quantitative", "axis": null},
            "y": {"field": "v", "type": "quantitative", "axis": null},
            "detail": {"field": "g", "type": "nominal"},
            "order": {"field": "o", "type": "quantitative"},
            "color": {"field": "g", "type": "nominal", "scale": {"domain": ["r", "b"], "range": ["#e04848", "#3f86dc"]}, "legend": null}
          }
        },
        {
          "data": {"values": [{"k": 55.6, "v": 102, "t": "102.00"}, {"k": 55.6, "v": 100, "t": "100.00"}, {"k": 55.6, "v": 99, "t": "99.00"}, {"k": 55.6, "v": 98, "t": "98.00"}, {"k": 55.6, "v": 97, "t": "97.00"}]},
          "mark": {"type": "text", "align": "left", "baseline": "middle", "fontSize": 5.5, "color": "#8a8a8a"},
          "encoding": {"x": {"field": "k", "type": "quantitative", "axis": null}, "y": {"field": "v", "type": "quantitative", "axis": null}, "text": {"field": "t", "type": "nominal"}}
        },
        {
          "data": {"values": [{"k": 0.3, "v": 96.69, "t": "May"}, {"k": 20.8, "v": 96.69, "t": "Jun"}, {"k": 44, "v": 96.69, "t": "Jul"}, {"k": 6.85, "v": 102.19, "t": "Jul 14"}]},
          "mark": {"type": "text", "align": "center", "baseline": "middle", "fontSize": 5.5, "color": "#999999"},
          "encoding": {"x": {"field": "k", "type": "quantitative", "axis": null}, "y": {"field": "v", "type": "quantitative", "axis": null}, "text": {"field": "t", "type": "nominal"}}
        },
        {
          "data": {"values": [{"k": -4.37, "v": 100.05, "t": "DAILY"}]},
          "mark": {"type": "text", "align": "center", "baseline": "middle", "fontSize": 5.5, "angle": 270, "color": "#cccccc"},
          "encoding": {"x": {"field": "k", "type": "quantitative", "axis": null}, "y": {"field": "v", "type": "quantitative", "axis": null}, "text": {"field": "t", "type": "nominal"}}
        },
        {
          "data": {"values": [{"k": -6.98, "v": 101.87, "t": "USD"}]},
          "mark": {"type": "text", "align": "left", "baseline": "alphabetic", "fontSize": 13, "fontWeight": "bold", "color": "#666666"},
          "encoding": {"x": {"field": "k", "type": "quantitative", "axis": null}, "y": {"field": "v", "type": "quantitative", "axis": null}, "text": {"field": "t", "type": "nominal"}}
        },
        {
          "data": {"values": [{"a": 54.6, "b": 61.7, "lo": 100.89, "hi": 101.16}]},
          "mark": {"type": "rect", "fill": "#ffeb3b"},
          "encoding": {"x": {"field": "a", "type": "quantitative", "axis": null}, "x2": {"field": "b"}, "y": {"field": "lo", "type": "quantitative", "axis": null}, "y2": {"field": "hi"}}
        },
        {
          "data": {"values": [{"k": 58.2, "v": 101.02, "t": "101.01"}]},
          "mark": {"type": "text", "align": "center", "baseline": "middle", "fontSize": 5.5, "fontWeight": "bold", "color": "#222222"},
          "encoding": {"x": {"field": "k", "type": "quantitative", "axis": null}, "y": {"field": "v", "type": "quantitative", "axis": null}, "text": {"field": "t", "type": "nominal"}}
        },
        {
          "data": {"values": [{"k": 54, "v": 101.07}]},
          "mark": {"type": "point", "filled": true, "size": 6, "color": "#e53935", "opacity": 1},
          "encoding": {"x": {"field": "k", "type": "quantitative", "axis": null}, "y": {"field": "v", "type": "quantitative", "axis": null}}
        }
      ]
    }
  ],
  "resolve": {"scale": {"x": "independent", "y": "independent"}}
}
